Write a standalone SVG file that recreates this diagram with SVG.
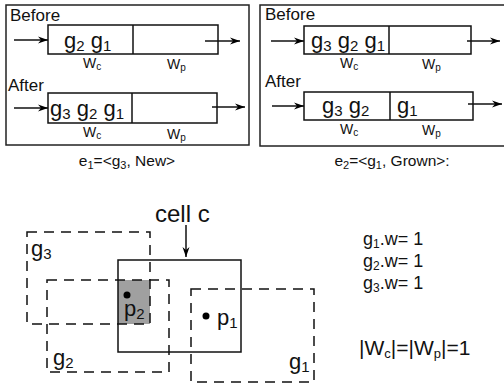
<svg xmlns="http://www.w3.org/2000/svg" width="504" height="388" viewBox="0 0 504 388">
<defs>
<marker id="ah" markerWidth="10" markerHeight="8" refX="10" refY="4" orient="auto" markerUnits="userSpaceOnUse">
<path d="M0,0.5 L10,4 L0,7.5 L3,4 Z" fill="#000"/>
</marker>
</defs>
<style>
text{font-family:"Liberation Sans",Arial,sans-serif;fill:#111}
.lbl{font-size:17px}
.g{font-size:22px}
.s{font-size:15px}
.w{font-size:14px}
.ws{font-size:10px}
.cap{font-size:15.5px}
.cs{font-size:11px}
.box{fill:none;stroke:#111;stroke-width:1.5}
.pan{fill:none;stroke:#222;stroke-width:1.5}
.dash{fill:none;stroke:#111;stroke-width:1.5;stroke-dasharray:10 7}
.arr{stroke:#111;stroke-width:1.5;fill:none;marker-end:url(#ah)}
</style>
<rect width="504" height="388" fill="#fff"/>

<g id="panel1">
<rect class="pan" x="6" y="5" width="243" height="140"/>
<text class="lbl" x="10" y="21">Before</text>
<rect class="box" x="48" y="25" width="170" height="29"/>
<line class="box" x1="133" y1="25" x2="133" y2="54"/>
<text class="g" x="64" y="48">g<tspan class="s" dy="3">2</tspan><tspan dy="-3"> g</tspan><tspan class="s" dy="3">1</tspan></text>
<text class="w" x="83" y="68">W<tspan class="ws" dy="2">c</tspan></text>
<text class="w" x="167" y="69">W<tspan class="ws" dy="2">p</tspan></text>
<text class="lbl" x="8" y="91">After</text>
<rect class="box" x="48" y="93" width="169" height="30"/>
<line class="box" x1="132" y1="93" x2="132" y2="123"/>
<text class="g" x="50" y="116">g<tspan class="s" dy="3">3</tspan><tspan dy="-3"> g</tspan><tspan class="s" dy="3">2</tspan><tspan dy="-3"> g</tspan><tspan class="s" dy="3">1</tspan></text>
<text class="w" x="83" y="137">W<tspan class="ws" dy="2">c</tspan></text>
<text class="w" x="167" y="139">W<tspan class="ws" dy="2">p</tspan></text>
</g>
<text class="cap" x="127" y="166" text-anchor="middle">e<tspan class="cs" dy="3">1</tspan><tspan dy="-3">=&lt;g</tspan><tspan class="cs" dy="3">3</tspan><tspan dy="-3">, New&gt;</tspan></text>

<g id="panel2">
<rect class="pan" x="260" y="5" width="260" height="141"/>
<text class="lbl" x="265" y="20">Before</text>
<rect class="box" x="304" y="26" width="167" height="28"/>
<line class="box" x1="389" y1="26" x2="389" y2="54"/>
<text class="g" x="311" y="48">g<tspan class="s" dy="3">3</tspan><tspan dy="-3"> g</tspan><tspan class="s" dy="3">2</tspan><tspan dy="-3"> g</tspan><tspan class="s" dy="3">1</tspan></text>
<text class="w" x="340" y="68">W<tspan class="ws" dy="2">c</tspan></text>
<text class="w" x="422" y="69">W<tspan class="ws" dy="2">p</tspan></text>
<text class="lbl" x="265" y="87">After</text>
<rect class="box" x="304" y="92" width="169" height="28"/>
<line class="box" x1="390" y1="92" x2="390" y2="120"/>
<text class="g" x="322" y="113">g<tspan class="s" dy="3">3</tspan><tspan dy="-3"> g</tspan><tspan class="s" dy="3">2</tspan></text>
<text class="g" x="397" y="113">g<tspan class="s" dy="3">1</tspan></text>
<text class="w" x="340" y="134">W<tspan class="ws" dy="2">c</tspan></text>
<text class="w" x="422" y="135">W<tspan class="ws" dy="2">p</tspan></text>
</g>
<text class="cap" x="392" y="166" text-anchor="middle">e<tspan class="cs" dy="3">2</tspan><tspan dy="-3">=&lt;g</tspan><tspan class="cs" dy="3">1</tspan><tspan dy="-3">, Grown&gt;:</tspan></text>

<g id="connectors">
<line class="arr" x1="14" y1="40" x2="48" y2="40"/>
<line class="arr" x1="205" y1="41" x2="240" y2="41"/>
<line class="arr" x1="14" y1="108" x2="48" y2="108"/>
<line class="arr" x1="212" y1="107" x2="245" y2="107"/>
<line class="arr" x1="271" y1="41" x2="304" y2="41"/>
<line class="arr" x1="467" y1="41" x2="500" y2="41"/>
<line class="arr" x1="272" y1="106" x2="304" y2="106"/>
<line class="arr" x1="468" y1="104" x2="502" y2="104"/>
<line class="arr" x1="186" y1="225" x2="186" y2="257"/>
</g>

<g id="grid">
<rect x="118" y="280" width="32" height="44" fill="#a0a0a0"/>
<rect class="box" x="118" y="260" width="123" height="92"/>
<text x="155" y="222" font-size="24px">cell c</text>
<rect class="dash" x="27" y="232" width="123" height="92"/>
<rect class="dash" x="47" y="280" width="122" height="92"/>
<rect class="dash" x="191" y="289" width="123" height="93"/>
<text class="g" x="31" y="256">g<tspan class="s" dy="3">3</tspan></text>
<text class="g" x="53" y="365">g<tspan class="s" dy="3">2</tspan></text>
<text class="g" x="289" y="369">g<tspan class="s" dy="3">1</tspan></text>
<circle cx="127" cy="295" r="3.5" fill="#000"/>
<text class="g" x="124" y="316">p<tspan class="s" dy="3">2</tspan></text>
<circle cx="206" cy="316" r="3.5" fill="#000"/>
<text class="g" x="217" y="325">p<tspan class="s" dy="3">1</tspan></text>
</g>

<g id="weights">
<text x="363" y="245" font-size="18px">g<tspan font-size="12" dy="3">1</tspan><tspan dy="-3">.w= 1</tspan></text>
<text x="363" y="267" font-size="18px">g<tspan font-size="12" dy="3">2</tspan><tspan dy="-3">.w= 1</tspan></text>
<text x="363" y="289" font-size="18px">g<tspan font-size="12" dy="3">3</tspan><tspan dy="-3">.w= 1</tspan></text>
<text x="359" y="355" font-size="21px">|W<tspan font-size="13" dy="3">c</tspan><tspan dy="-3">|=|W</tspan><tspan font-size="13" dy="3">p</tspan><tspan dy="-3">|=1</tspan></text>
</g>
</svg>
